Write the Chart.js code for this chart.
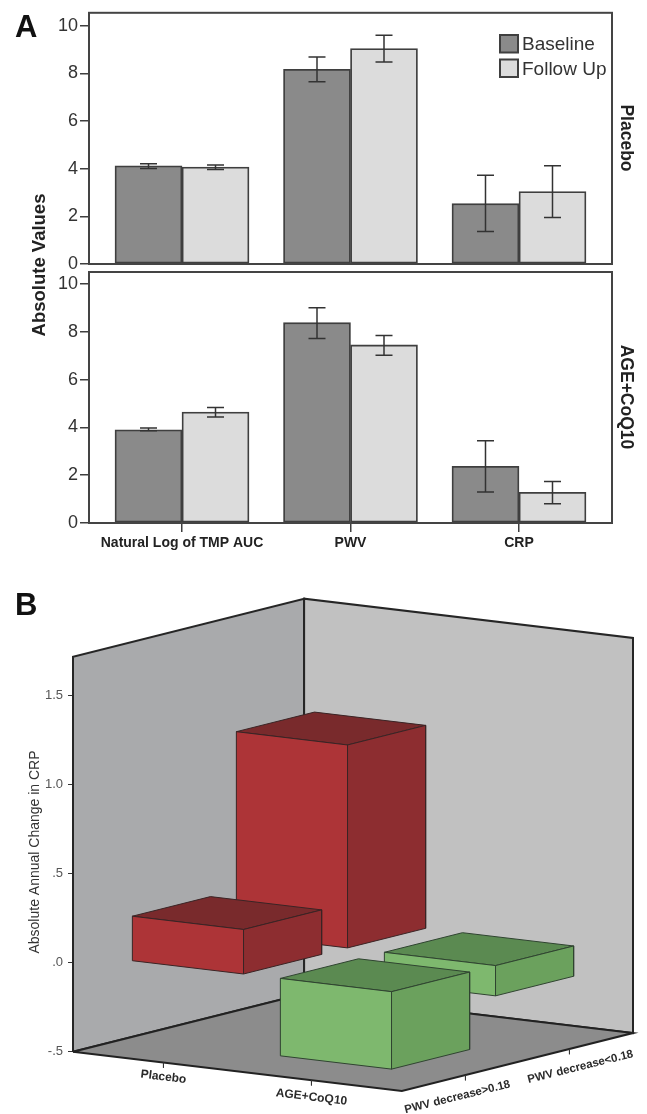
<!DOCTYPE html>
<html>
<head>
<meta charset="utf-8">
<title>Absolute values and annual change in CRP</title>
<script src="https://cdn.jsdelivr.net/npm/chart.js@4/dist/chart.umd.min.js"></script>
<style>
  html, body { margin: 0; background: #fff; }
  #page { position: relative; width: 647px; height: 1114px; overflow: hidden; font-family: "Liberation Sans", Arial, sans-serif; }
  canvas { position: absolute; left: 0; }
  .txt { position: absolute; white-space: nowrap; color: #222; font-weight: bold; }
  .letter { font-size: 31px; line-height: 31px; color: #111; left: 15px; }
  .rot { transform: translate(-50%, -50%) rotate(90deg); font-size: 17.5px; line-height: 20px; }
</style>
</head>
<body>
<div id="page">
  <canvas id="placebo" width="647" height="280" style="top:0"></canvas>
  <canvas id="treated" width="647" height="312" style="top:256px"></canvas>
  <canvas id="change" width="647" height="594" style="top:560px"></canvas>
  <div class="txt letter" style="top:11px">A</div>
  <div class="txt letter" style="top:589px">B</div>
  <div class="txt rot" style="left:39px;top:265px;transform:translate(-50%,-50%) rotate(-90deg);font-size:18.5px">Absolute Values</div>
  <div class="txt rot" style="left:627px;top:138px">Placebo</div>
  <div class="txt rot" style="left:627px;top:397px">AGE+CoQ10</div>
</div>
<script>
const measures = ['Natural Log of TMP AUC', 'PWV', 'CRP']
const seriesNames = ['Baseline', 'Follow Up']
const ticksA = [0, 2, 4, 6, 8, 10]

const placeboBaseline = [4.12, 8.17, 2.53]
const placeboBaselineLow = [4.01, 7.65, 1.36]
const placeboBaselineHigh = [4.21, 8.69, 3.72]
const placeboFollowUp = [4.07, 9.04, 3.04]
const placeboFollowUpLow = [3.97, 8.48, 1.95]
const placeboFollowUpHigh = [4.15, 9.6, 4.12]

const treatedBaseline = [3.9, 8.38, 2.37]
const treatedBaselineLow = [3.86, 7.72, 1.3]
const treatedBaselineHigh = [3.97, 9.0, 3.44]
const treatedFollowUp = [4.64, 7.45, 1.28]
const treatedFollowUpLow = [4.43, 7.02, 0.81]
const treatedFollowUpHigh = [4.83, 7.84, 1.74]

const groups = ['Placebo', 'AGE+CoQ10']
const depths = ['PWV decrease>0.18', 'PWV decrease<0.18']
const changeNear = [0.25, -0.435]
const changeFar = [1.14, -0.17]
const ticksB = [-0.5, 0, 0.5, 1, 1.5]
const tickLabelsB = ['-.5', '.0', '.5', '1.0', '1.5']

const DARK = '#8a8a8a'
const LIGHT = '#dcdcdc'
const INK = '#3f3f3f'

// box around the plot, error bars and (top panel only) the legend
const panelA = {
  id: 'panelA',
  afterDatasetsDraw(chart, args, opts) {
    const { ctx, chartArea: a, scales } = chart
    ctx.save()
    ctx.strokeStyle = '#333'
    ctx.lineWidth = 1.5
    opts.errors.forEach((err, ds) => {
      const bars = chart.getDatasetMeta(ds).data
      bars.forEach((bar, i) => {
        const lo = scales.y.getPixelForValue(err.low[i])
        const hi = scales.y.getPixelForValue(err.high[i])
        ctx.beginPath()
        ctx.moveTo(bar.x, lo)
        ctx.lineTo(bar.x, hi)
        ctx.moveTo(bar.x - 8.5, lo)
        ctx.lineTo(bar.x + 8.5, lo)
        ctx.moveTo(bar.x - 8.5, hi)
        ctx.lineTo(bar.x + 8.5, hi)
        ctx.stroke()
      })
    })
    ctx.strokeStyle = '#444'
    ctx.lineWidth = 2
    ctx.strokeRect(a.left, a.top, a.right - a.left, a.bottom - a.top)
    if (opts.legend) {
      ctx.font = '19px "Liberation Sans", Arial, sans-serif'
      ctx.textBaseline = 'middle'
      seriesNames.forEach((name, i) => {
        const y = 35 + i * 24.5
        ctx.fillStyle = i ? LIGHT : DARK
        ctx.fillRect(500, y, 18, 17.5)
        ctx.strokeStyle = INK
        ctx.strokeRect(500, y, 18, 17.5)
        ctx.fillStyle = '#333'
        ctx.fillText(name, 522, y + 10)
      })
    }
    ctx.restore()
  },
}

function barChart(id, baseline, followUp, errors, yMax, padding, showAxis) {
  const toPoints = (vals) => vals.map((y, x) => ({ x, y }))
  const bar = (label, vals, color) => ({
    label,
    data: toPoints(vals),
    backgroundColor: color,
    borderColor: INK,
    borderWidth: 1.8,
    borderSkipped: false,
    barThickness: 67,
  })
  return new Chart(document.getElementById(id), {
    type: 'bar',
    data: { datasets: [bar(seriesNames[0], baseline, DARK), bar(seriesNames[1], followUp, LIGHT)] },
    plugins: [panelA],
    options: {
      responsive: false,
      animation: false,
      events: [],
      layout: { padding },
      plugins: {
        legend: { display: false },
        tooltip: { enabled: false },
        panelA: { errors, legend: !showAxis },
      },
      scales: {
        x: {
          type: 'linear',
          display: showAxis,
          offset: false,
          min: -0.552,
          max: 2.552,
          afterBuildTicks: (s) => { s.ticks = measures.map((m, i) => ({ value: i })) },
          afterFit: (s) => { s.height = showAxis ? 45 : 0 },
          ticks: {
            autoSkip: false,
            maxRotation: 0,
            padding: 3,
            color: '#222',
            font: { family: '"Liberation Sans"', size: 14, weight: 'bold' },
            callback: (v) => measures[v],
          },
          grid: { offset: false, drawOnChartArea: false, tickLength: 9, color: INK, lineWidth: 1.5 },
          border: { display: false },
        },
        y: {
          min: 0,
          max: yMax,
          afterBuildTicks: (s) => { s.ticks = ticksA.map((value) => ({ value })) },
          afterFit: (s) => { s.width = 89 },
          ticks: { padding: 2, color: '#333', font: { family: '"Liberation Sans"', size: 18 } },
          grid: { drawOnChartArea: false, tickLength: 9, color: INK, lineWidth: 1.5 },
          border: { display: false },
        },
      },
    },
  })
}

barChart('placebo', placeboBaseline, placeboFollowUp, [
  { low: placeboBaselineLow, high: placeboBaselineHigh },
  { low: placeboFollowUpLow, high: placeboFollowUpHigh },
], 10.54, { top: 12, right: 35, bottom: 16 }, false)

barChart('treated', treatedBaseline, treatedFollowUp, [
  { low: treatedBaselineLow, high: treatedBaselineHigh },
  { low: treatedFollowUpLow, high: treatedFollowUpHigh },
], 10.5, { top: 16, right: 35 }, true)

// panel B is an oblique view: group and depth run 0..1 along the floor, v is the CRP value
const project = (g, d, v) => ({
  x: 0.5873 * g + 0.4127 * d,
  y: v - 0.2208 * g + 0.3258 * d,
})
const FLOOR = -0.5
const WALL_TOP = 1.719
const CENTRES = [0.275, 0.725]
const HALF = 0.169

const faces = []
function face(corners, fill, stroke, width) {
  faces.push({
    data: [...corners, corners[0]].map((c) => project(...c)),
    showLine: true,
    fill: fill ? 'shape' : false,
    backgroundColor: fill || 'transparent',
    borderColor: stroke,
    borderWidth: width,
    borderJoinStyle: 'miter',
    pointRadius: 0,
    clip: false,
  })
}

function box(g, d, value, colors) {
  const g0 = g - HALF, g1 = g + HALF, d0 = d - HALF, d1 = d + HALF
  const top = Math.max(value, 0), low = Math.min(value, 0)
  face([[g0, d0, top], [g1, d0, top], [g1, d1, top], [g0, d1, top]], colors[2], colors[3], 1)
  face([[g0, d0, top], [g1, d0, top], [g1, d0, low], [g0, d0, low]], colors[0], colors[3], 1)
  face([[g1, d0, top], [g1, d1, top], [g1, d1, low], [g1, d0, low]], colors[1], colors[3], 1)
}

const RED = ['#ad3437', '#8d2d30', '#792a2c', '#3a2425']
const GREEN = ['#7eb86e', '#6ba15d', '#5b8a51', '#2f4430']

face([[0, 0, FLOOR], [0, 1, FLOOR], [0, 1, WALL_TOP], [0, 0, WALL_TOP]], '#a9aaac', '#262626', 2)
face([[0, 1, FLOOR], [1, 1, FLOOR], [1, 1, WALL_TOP], [0, 1, WALL_TOP]], '#c1c1c1', '#262626', 2)
face([[0, 0, FLOOR], [1, 0, FLOOR], [1, 1, FLOOR], [0, 1, FLOOR]], '#8c8c8c', '#222', 2)

box(CENTRES[0], CENTRES[1], changeFar[0], RED)
box(CENTRES[1], CENTRES[1], changeFar[1], GREEN)
box(CENTRES[0], CENTRES[0], changeNear[0], RED)
box(CENTRES[1], CENTRES[0], changeNear[1], GREEN)

CENTRES.forEach((c) => {
  face([[c, 0, FLOOR], [c, 0, FLOOR - 0.03]], null, '#333', 1)
  face([[1, c, FLOOR], [1, c, FLOOR - 0.03]], null, '#333', 1)
})
faces.forEach((f, i) => { f.order = faces.length - i })

// category names sit along the floor edges, following their slope
const groupNudge = [[0, 14.5], [0, 17]]
const depthNudge = [[-8, 22], [11, 18]]
const floorLabels = {
  id: 'floorLabels',
  afterDatasetsDraw(chart) {
    const { ctx, scales } = chart
    const put = (text, p, nudge, angle, size) => {
      ctx.save()
      ctx.translate(scales.x.getPixelForValue(p.x) + nudge[0], scales.y.getPixelForValue(p.y) + nudge[1])
      ctx.rotate(angle)
      ctx.font = 'bold ' + size + 'px "Liberation Sans", Arial, sans-serif'
      ctx.textAlign = 'center'
      ctx.textBaseline = 'middle'
      ctx.fillStyle = '#2a2a2a'
      ctx.fillText(text, 0, 0)
      ctx.restore()
    }
    groups.forEach((t, i) => put(t, project(CENTRES[i], 0, FLOOR), groupNudge[i], 0.12, 12))
    depths.forEach((t, i) => put(t, project(1, CENTRES[i], FLOOR), depthNudge[i], -0.243, 11.5))
  },
}

new Chart(document.getElementById('change'), {
  type: 'scatter',
  data: { datasets: faces },
  plugins: [floorLabels],
  options: {
    responsive: false,
    animation: false,
    events: [],
    layout: { padding: { top: 36, right: 14, bottom: 46 } },
    plugins: { legend: { display: false }, tooltip: { enabled: false } },
    scales: {
      x: { type: 'linear', display: false, min: 0, max: 1 },
      y: {
        min: -0.8163,
        max: 2.06,
        afterBuildTicks: (s) => { s.ticks = ticksB.map((value) => ({ value })) },
        afterFit: (s) => { s.width = 73 },
        title: {
          display: true,
          text: 'Absolute Annual Change in CRP',
          color: '#333',
          padding: { top: 27, bottom: 0 },
          font: { family: '"Liberation Sans"', size: 14 },
        },
        ticks: {
          padding: 5,
          color: '#555',
          font: { family: '"Liberation Sans"', size: 13 },
          callback: (v) => tickLabelsB[ticksB.indexOf(v)],
        },
        grid: { drawOnChartArea: false, tickLength: 5, color: '#333', lineWidth: 1 },
        border: { display: false },
      },
    },
  },
})
</script>
</body>
</html>
